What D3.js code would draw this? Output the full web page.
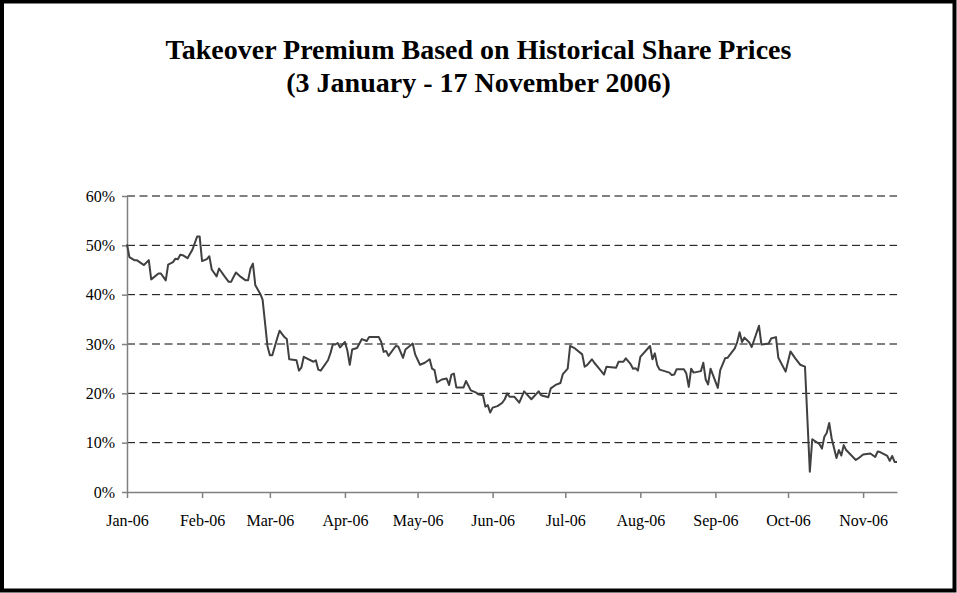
<!DOCTYPE html>
<html>
<head>
<meta charset="utf-8">
<script src="https://cdn.jsdelivr.net/npm/d3@7"></script>
<style>
  body { margin: 0; background: #fff; }
  svg { display: block; }
</style>
</head>
<body>
<div id="chart"></div>
<script>
// takeover premium (percent)
const dates = [
  "2006-01-03","2006-01-04","2006-01-06","2006-01-07","2006-01-10","2006-01-12","2006-01-13","2006-01-16","2006-01-17","2006-01-19",
  "2006-01-20","2006-01-22","2006-01-23","2006-01-24","2006-01-25","2006-01-26","2006-01-28","2006-01-30","2006-02-01","2006-02-02",
  "2006-02-03","2006-02-05","2006-02-06","2006-02-07","2006-02-09","2006-02-10","2006-02-12","2006-02-14","2006-02-15","2006-02-16",
  "2006-02-17","2006-02-19","2006-02-21","2006-02-22","2006-02-23","2006-02-24","2006-02-25","2006-02-27","2006-02-28","2006-03-02",
  "2006-03-03","2006-03-04","2006-03-06","2006-03-07","2006-03-09","2006-03-10","2006-03-11","2006-03-14","2006-03-15","2006-03-16",
  "2006-03-17","2006-03-21","2006-03-22","2006-03-23","2006-03-24","2006-03-27","2006-03-28","2006-03-29","2006-03-30","2006-03-31",
  "2006-04-01","2006-04-03","2006-04-04","2006-04-05","2006-04-06","2006-04-08","2006-04-10","2006-04-12","2006-04-13","2006-04-17",
  "2006-04-18","2006-04-19","2006-04-20","2006-04-21","2006-04-24","2006-04-25","2006-04-27","2006-04-28","2006-05-01","2006-05-02",
  "2006-05-04","2006-05-06","2006-05-08","2006-05-09","2006-05-10","2006-05-11","2006-05-13","2006-05-15","2006-05-16","2006-05-17",
  "2006-05-18","2006-05-19","2006-05-22","2006-05-23","2006-05-25","2006-05-27","2006-05-28","2006-05-30","2006-05-31","2006-06-01",
  "2006-06-02","2006-06-03","2006-06-05","2006-06-07","2006-06-08","2006-06-09","2006-06-10","2006-06-12","2006-06-14","2006-06-16",
  "2006-06-19","2006-06-22","2006-06-23","2006-06-26","2006-06-27","2006-06-29","2006-07-01","2006-07-02","2006-07-04","2006-07-05",
  "2006-07-07","2006-07-10","2006-07-11","2006-07-12","2006-07-14","2006-07-15","2006-07-17","2006-07-19","2006-07-20","2006-07-24",
  "2006-07-25","2006-07-27","2006-07-28","2006-07-30","2006-07-31","2006-08-01","2006-08-02","2006-08-03","2006-08-07","2006-08-08",
  "2006-08-09","2006-08-10","2006-08-11","2006-08-15","2006-08-16","2006-08-17","2006-08-18","2006-08-21","2006-08-22","2006-08-23",
  "2006-08-24","2006-08-25","2006-08-28","2006-08-29","2006-08-30","2006-08-31","2006-09-01","2006-09-04","2006-09-05","2006-09-07",
  "2006-09-08","2006-09-11","2006-09-12","2006-09-13","2006-09-14","2006-09-15","2006-09-17","2006-09-18","2006-09-21","2006-09-22",
  "2006-09-25","2006-09-26","2006-09-28","2006-09-29","2006-10-02","2006-10-04","2006-10-06","2006-10-08","2006-10-10","2006-10-12",
  "2006-10-13","2006-10-16","2006-10-17","2006-10-18","2006-10-19","2006-10-20","2006-10-21","2006-10-23","2006-10-24","2006-10-25",
  "2006-10-26","2006-10-27","2006-10-31","2006-11-01","2006-11-03","2006-11-06","2006-11-08","2006-11-09","2006-11-10","2006-11-13",
  "2006-11-14","2006-11-15","2006-11-16","2006-11-17"
];
const premium = [
  50.2,47.6,47.0,47.0,46.0,47.0,43.1,44.3,44.3,42.9,
  46.1,46.6,47.3,47.2,48.1,48.0,47.4,49.1,51.8,51.8,
  46.8,47.2,47.8,45.1,43.7,45.3,43.9,42.6,42.6,43.6,
  44.5,43.6,42.9,42.9,45.3,46.3,41.9,40.2,39.0,29.6,
  27.7,27.7,31.1,32.7,31.4,31.0,26.9,26.7,24.6,25.2,
  27.4,26.4,26.7,24.8,24.6,26.7,28.1,29.9,29.9,30.2,
  29.3,30.4,28.7,25.8,28.9,29.2,31.0,30.6,31.4,31.4,
  30.4,28.4,28.6,27.6,29.6,29.5,27.2,28.9,30.1,27.9,
  25.8,26.2,26.9,25.0,24.7,22.2,22.8,23.0,21.7,23.8,
  24.0,21.2,21.2,22.5,20.6,20.2,19.8,19.6,17.3,17.6,
  16.1,17.1,17.4,18.1,18.8,20.0,19.3,19.3,18.1,20.4,
  18.8,20.4,19.6,19.2,21.0,21.7,22.1,23.9,25.0,29.6,
  29.1,27.9,25.4,25.7,26.9,26.2,25.0,23.8,25.4,25.2,
  26.4,26.4,27.1,25.9,25.0,25.1,24.6,27.4,29.6,26.9,
  28.1,25.7,24.8,24.2,23.7,23.8,24.9,24.9,24.0,21.3,
  25.0,24.2,24.5,26.2,22.8,21.8,25.0,21.1,24.7,27.1,
  27.2,29.1,30.4,32.4,30.4,31.3,30.3,29.4,33.7,29.9,
  30.1,31.1,31.4,27.2,24.4,28.5,27.1,25.8,25.4,4.1,
  10.7,9.7,8.8,11.2,12.0,14.0,10.9,6.9,8.5,7.4,
  9.5,8.5,6.5,6.8,7.6,7.8,7.1,8.2,8.1,7.3,
  6.3,7.3,6.1,6.1
];
const yTicks = [0, 10, 20, 30, 40, 50, 60];
const titleLines = ["Takeover Premium Based on Historical Share Prices", "(3 January - 17 November 2006)"];

const W = 957, H = 593;
const margin = { left: 127, right: 60, top: 196, bottom: 101 };
const font = "'Liberation Serif', 'Times New Roman', serif";
const parse = d3.timeParse("%Y-%m-%d");
const data = dates.map((d, i) => ({ date: parse(d), value: premium[i] }));

const svg = d3.select("#chart").append("svg")
  .attr("width", W).attr("height", H);

svg.append("rect")
  .attr("x", 2).attr("y", 1.5)
  .attr("width", W - 4.5).attr("height", H - 4)
  .attr("fill", "none").attr("stroke", "#000").attr("stroke-width", 4);

svg.selectAll("text.title")
  .data(titleLines)
  .join("text")
    .classed("title", true)
    .attr("x", W / 2)
    .attr("y", (_, i) => 59 + i * 33)
    .attr("text-anchor", "middle")
    .attr("font-family", font)
    .attr("font-weight", "bold")
    .attr("font-size", 28)
    .attr("fill", "#000")
    .text(d => d);

const x = d3.scaleTime()
  .domain([data[0].date, data[data.length - 1].date])
  .range([margin.left, W - margin.right]);
const y = d3.scaleLinear()
  .domain([0, 60])
  .range([H - margin.bottom, margin.top]);

// dashed gridlines
svg.append("g")
  .selectAll("line")
  .data(yTicks.filter(t => t > 0))
  .join("line")
    .attr("x1", margin.left).attr("x2", W - margin.right)
    .attr("y1", d => y(d)).attr("y2", d => y(d))
    .attr("stroke", "#000").attr("stroke-width", 1)
    .attr("stroke-dasharray", "8,4.5");

const monthTicks = d3.timeMonth.range(new Date(2006, 0, 1), new Date(2006, 10, 2))
  .map(m => d3.timeDay.offset(m, 2));

const yAxis = svg.append("g")
  .attr("transform", `translate(${margin.left},0)`)
  .call(d3.axisLeft(y).tickValues(yTicks).tickFormat(d => d + "%").tickSize(5).tickSizeOuter(0).tickPadding(7));
yAxis.select(".domain").attr("stroke", "#808080").attr("stroke-width", 1.5);
yAxis.selectAll(".tick line").attr("stroke", "#808080").attr("stroke-width", 1.5);
yAxis.selectAll("text").attr("font-family", font).attr("font-size", 16).attr("fill", "#000");

const xAxis = svg.append("g")
  .attr("transform", `translate(0,${H - margin.bottom})`)
  .call(d3.axisBottom(x).tickValues(monthTicks).tickFormat(d3.timeFormat("%b-%y")).tickSize(6).tickSizeOuter(0).tickPadding(17));
xAxis.select(".domain").attr("stroke", "#808080").attr("stroke-width", 1.5);
xAxis.selectAll(".tick line").attr("stroke", "#808080").attr("stroke-width", 1.5);
xAxis.selectAll("text").attr("font-family", font).attr("font-size", 16).attr("fill", "#000");

const line = d3.line()
  .x(d => x(d.date))
  .y(d => y(d.value));

svg.append("path")
  .datum(data)
  .attr("d", line)
  .attr("fill", "none")
  .attr("stroke", "#404040")
  .attr("stroke-width", 2)
  .attr("stroke-linejoin", "round");
</script>
</body>
</html>
